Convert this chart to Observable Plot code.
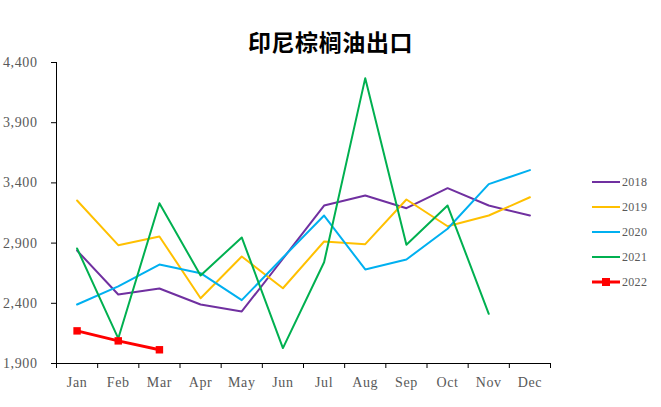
<!DOCTYPE html>
<html>
<head>
<meta charset="utf-8">
<script src="https://cdn.jsdelivr.net/npm/d3@7"></script>
<script src="https://cdn.jsdelivr.net/npm/@observablehq/plot@0.6"></script>
<style>
  body { margin: 0; background: #fff; }
  #wrap { position: relative; width: 661px; height: 407px; }
  #legend { position: absolute; left: 592px; top: 170px; font-family: "Liberation Serif", serif; font-size: 12px; color: #595959; letter-spacing: 0.3px; }
  .li { display: flex; align-items: center; height: 24.9px; }
  .li svg { margin-right: 2px; }
</style>
</head>
<body>
<div id="wrap"></div>
<script>
const title = "印尼棕榈油出口";
const months = ["Jan","Feb","Mar","Apr","May","Jun","Jul","Aug","Sep","Oct","Nov","Dec"];
const years = ["2018","2019","2020","2021","2022"];
const colors = ["#7030A0","#FFC000","#00B0F0","#00B050","#FF0000"];
const yTicks = [1900, 2400, 2900, 3400, 3900, 4400];
const y2018 = [2838, 2473, 2523, 2390, 2332, 2770, 3212, 3295, 3190, 3356, 3212, 3129];
const y2019 = [3254, 2883, 2955, 2442, 2789, 2525, 2913, 2891, 3262, 3040, 3129, 3281];
const y2020 = [2390, 2540, 2722, 2650, 2426, 2780, 3129, 2681, 2764, 3019, 3390, 3506];
const y2021 = [2855, 2108, 3231, 2631, 2947, 2028, 2741, 4270, 2886, 3212, 2313];
const y2022 = [2171, 2088, 2014];

const series = [y2018, y2019, y2020, y2021, y2022];
const rows = [];
series.forEach((vals, s) => vals.forEach((v, i) => rows.push({year: years[s], m: i + 0.5, month: months[i], value: v})));
const rows2022 = rows.filter(d => d.year === "2022");

const serif = "Liberation Serif, Times New Roman, serif";

const chart = Plot.plot({
  width: 661,
  height: 407,
  marginLeft: 56,
  marginRight: 111,
  marginTop: 62,
  marginBottom: 44,
  style: {fontFamily: serif, fontSize: "14px", color: "#595959", background: "#fff", letterSpacing: "0.6px"},
  x: {type: "linear", domain: [0, 12]},
  y: {domain: [1900, 4400]},
  color: {domain: years, range: colors},
  marks: [
    Plot.ruleY([1900], {stroke: "#000", strokeWidth: 1}),
    Plot.ruleX([0], {stroke: "#000", strokeWidth: 1}),
    Plot.axisY({ticks: yTicks, tickFormat: d3.format(","), tickSize: 5, tickPadding: 14, stroke: "#000", fill: "#595959", fontSize: 14, label: null}),
    Plot.axisX({ticks: d3.range(0, 13), tickFormat: () => "", tickSize: 5, stroke: "#000", label: null}),
    Plot.axisX({ticks: d3.range(0, 12).map(i => i + 0.5), tickFormat: d => months[Math.floor(d)], tickSize: 0, tickPadding: 14, fill: "#595959", fontSize: 14, label: null}),
    Plot.line(rows, {x: "m", y: "value", z: "year", stroke: "year", strokeWidth: 2, filter: d => d.year !== "2022"}),
    Plot.line(rows2022, {x: "m", y: "value", stroke: "year", strokeWidth: 3}),
    Plot.dot(rows2022, {x: "m", y: "value", fill: "year", symbol: "square", r: 4.2, stroke: null}),
    Plot.text([title], {frameAnchor: "top", dy: -28, dx: 27, fontSize: 23, fontWeight: "bold", fill: "#000", fontFamily: "Noto Sans CJK SC, sans-serif", letterSpacing: "0px"})
  ]
});
const wrap = document.getElementById("wrap");
wrap.appendChild(chart);

const legend = document.createElement("div");
legend.id = "legend";
years.forEach((y, i) => {
  const item = document.createElement("div");
  item.className = "li";
  const marker = i === 4 ? '<rect x="10" y="1" width="8" height="8" fill="' + colors[i] + '"/>' : '';
  item.innerHTML = '<svg width="28" height="10"><line x1="0" x2="28" y1="5" y2="5" stroke="' + colors[i] + '" stroke-width="' + (i === 4 ? 3 : 2) + '"/>' + marker + '</svg><span>' + y + '</span>';
  legend.appendChild(item);
});
wrap.appendChild(legend);
</script>
</body>
</html>
